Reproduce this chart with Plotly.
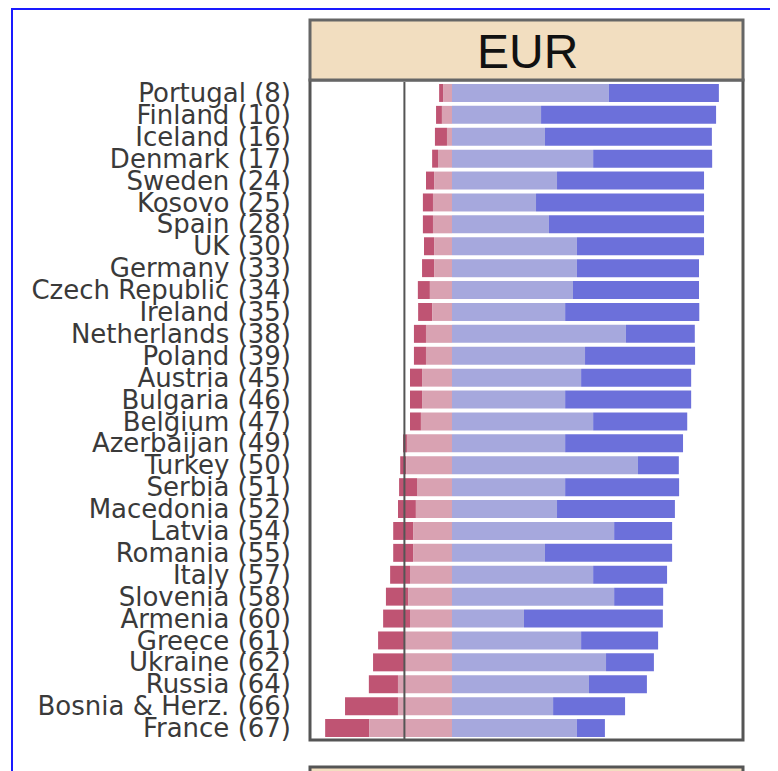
import plotly.graph_objects as go

countries = ["Portugal (8)", "Finland (10)", "Iceland (16)", "Denmark (17)", "Sweden (24)",
             "Kosovo (25)", "Spain (28)", "UK (30)", "Germany (33)", "Czech Republic (34)",
             "Ireland (35)", "Netherlands (38)", "Poland (39)", "Austria (45)", "Bulgaria (46)",
             "Belgium (47)", "Azerbaijan (49)", "Turkey (50)", "Serbia (51)", "Macedonia (52)",
             "Latvia (54)", "Romania (55)", "Italy (57)", "Slovenia (58)", "Armenia (60)",
             "Greece (61)", "Ukraine (62)", "Russia (64)", "Bosnia & Herz. (66)", "France (67)"]
strong_neg = [1.4, 2.1, 4.3, 2.1, 2.9, 3.6, 3.6, 3.6, 4.3, 4.3, 5.0, 4.3, 4.3, 4.3, 4.3,
              3.9, 1.4, 2.1, 6.4, 6.4, 7.1, 7.1, 7.1, 7.9, 9.6, 9.3, 11.1, 10.4, 18.9, 15.7]
neg = [3.2, 3.6, 1.8, 5.0, 6.4, 6.8, 6.8, 6.4, 6.4, 7.9, 7.1, 9.3, 9.3, 10.7, 10.7,
       11.1, 16.1, 16.4, 12.5, 12.9, 13.9, 13.9, 15.0, 15.7, 15.0, 17.1, 17.1, 19.3, 19.3, 29.6]
pos = [56.0, 31.8, 33.2, 50.4, 37.5, 30.0, 34.6, 44.6, 44.6, 43.2, 40.4, 62.1, 47.5, 46.1, 40.4,
       50.4, 40.4, 66.4, 40.4, 37.5, 57.9, 33.2, 50.4, 57.9, 25.7, 46.1, 55.0, 48.9, 36.1, 44.6]
strong_pos = [39.3, 62.5, 59.6, 42.5, 52.5, 60.0, 55.4, 45.4, 43.6, 45.0, 47.9, 24.6, 39.3, 39.3, 45.0,
              33.6, 42.1, 14.6, 40.7, 42.1, 20.7, 45.4, 26.4, 17.5, 49.6, 27.5, 17.1, 20.7, 25.7, 10.0]
ref_line = -17
panel_title = "EUR"

n = len(countries)

W, H = 778, 771
OFF = 8  # page body margin offset
L, R, T, B = 312 - OFF, 741 - OFF, 82 - OFF, 739 - OFF

def px(x):
    return (x - OFF - L) / (R - L)

def py(y):
    return 1 - (y - OFF - T) / (B - T)

neg_total = [a + b for a, b in zip(strong_neg, neg)]
fig = go.Figure()
fig.add_trace(go.Bar(y=countries, x=strong_neg, base=[-v for v in neg_total],
                     orientation="h", marker=dict(color="#BF5473", line=dict(width=0)), showlegend=False))
fig.add_trace(go.Bar(y=countries, x=neg, base=[-v for v in neg],
                     orientation="h", marker=dict(color="#D9A2B2", line=dict(width=0)), showlegend=False))
fig.add_trace(go.Bar(y=countries, x=pos, base=[0] * n,
                     orientation="h", marker=dict(color="#A6A8DD", line=dict(width=0)), showlegend=False))
fig.add_trace(go.Bar(y=countries, x=strong_pos, base=pos,
                     orientation="h", marker=dict(color="#6C70DA", line=dict(width=0)), showlegend=False))

fig.add_vline(x=ref_line, line=dict(color="#555555", width=2), layer="above")

shapes = [
    dict(type="rect", xref="paper", yref="paper", x0=px(310), x1=px(743), y0=py(740), y1=py(80),
         line=dict(color="#555555", width=3), fillcolor="rgba(0,0,0,0)", layer="above"),
    dict(type="rect", xref="paper", yref="paper", x0=px(310), x1=px(743), y0=py(80), y1=py(20),
         line=dict(color="#666666", width=3), fillcolor="#F2DEC0", layer="above"),
    dict(type="rect", xref="paper", yref="paper", x0=px(310), x1=px(743), y0=py(800), y1=py(767),
         line=dict(color="#555555", width=3), fillcolor="#F2DEC0", layer="above"),
    dict(type="rect", xref="paper", yref="paper", x0=px(12), x1=px(900), y0=py(900), y1=py(9),
         line=dict(color="#1A1AFF", width=2), fillcolor="rgba(0,0,0,0)", layer="above"),
]
for s in shapes:
    fig.add_shape(**s)

fig.add_annotation(text=panel_title, xref="paper", yref="paper", x=px(527), y=py(51),
                   showarrow=False, font=dict(family="Liberation Sans, Arial", size=48, color="#111111"),
                   xanchor="center", yanchor="middle")

fig.update_layout(
    width=W, height=H, barmode="overlay", bargap=0.18,
    margin=dict(l=L, r=W - R, t=T, b=H - B, autoexpand=False),
    plot_bgcolor="white", paper_bgcolor="white",
    xaxis=dict(range=[-50, 103.2], showgrid=False, zeroline=False, showticklabels=False,
               ticks="", showline=False, fixedrange=True),
    yaxis=dict(categoryorder="array", categoryarray=countries[::-1], showgrid=False,
               tickmode="array", tickvals=countries, ticktext=countries,
               ticks="", showline=False, ticklabelstandoff=20,
               tickfont=dict(family="DejaVu Sans", size=26, color="#3a3a3a")),
)
fig.write_html("out.html")
